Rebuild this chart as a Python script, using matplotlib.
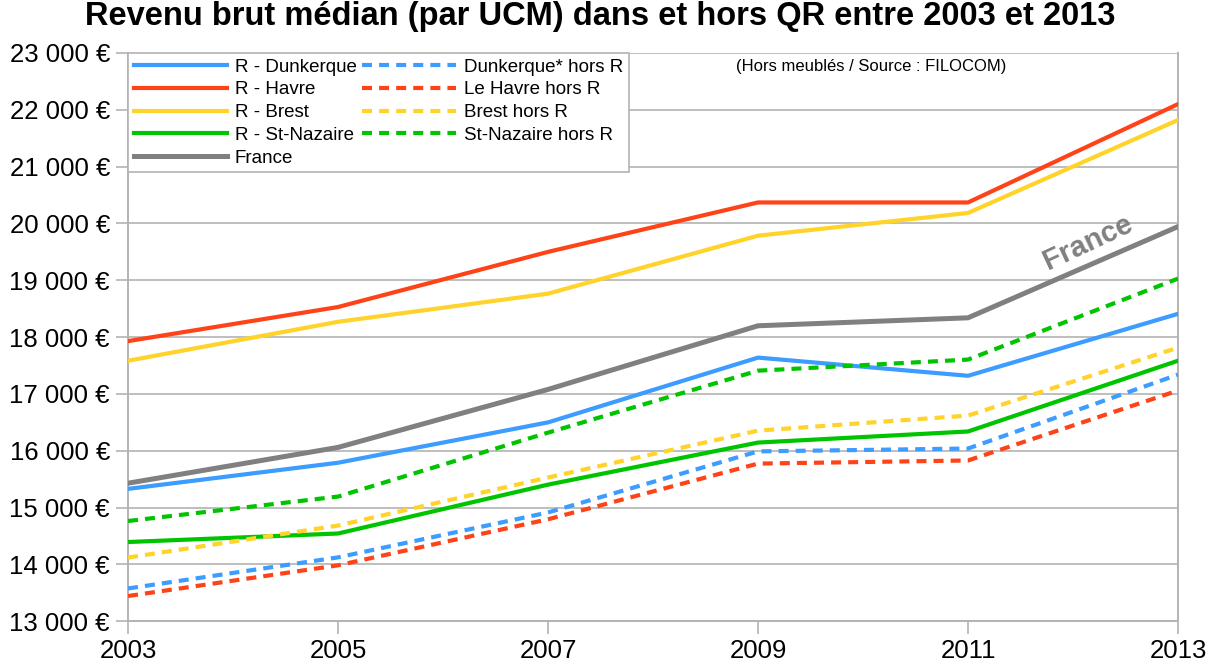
import matplotlib
matplotlib.use('Agg')
import matplotlib.pyplot as plt
from matplotlib.ticker import FuncFormatter

plt.rcParams['font.family'] = ['Liberation Sans', 'DejaVu Sans']

# --- Données ---
annees = [2003, 2005, 2007, 2009, 2011, 2013]

r_dunkerque = [15330, 15790, 16500, 17640, 17320, 18410]
r_havre = [17930, 18530, 19500, 20370, 20370, 22100]
r_brest = [17585, 18270, 18765, 19785, 20185, 21820]
r_st_nazaire = [14395, 14545, 15405, 16145, 16340, 17585]
france = [15430, 16060, 17080, 18200, 18340, 19945]

dunkerque_hors = [13578, 14125, 14915, 15990, 16040, 17340]
havre_hors = [13445, 13985, 14795, 15775, 15830, 17060]
brest_hors = [14122, 14685, 15530, 16355, 16620, 17815]
st_nazaire_hors = [14765, 15195, 16320, 17410, 17605, 19030]

# --- Couleurs ---
BLEU = '#3c9cff'
ROUGE = '#ff4318'
JAUNE = '#ffd32a'
VERT = '#00c400'
GRIS = '#808080'

fig = plt.figure(figsize=(12.23, 6.68), dpi=100)
ax = fig.add_axes([0.1047, 0.0699, 0.8585, 0.8508])

lw = 3.0
dash = (2.4, 1.7)
ax.plot(annees, r_dunkerque, color=BLEU, lw=lw, label='R - Dunkerque', zorder=3)
ax.plot(annees, r_havre, color=ROUGE, lw=lw, label='R - Havre', zorder=3)
ax.plot(annees, r_brest, color=JAUNE, lw=lw, label='R - Brest', zorder=3)
ax.plot(annees, r_st_nazaire, color=VERT, lw=lw, label='R - St-Nazaire', zorder=3)
ax.plot(annees, france, color=GRIS, lw=lw + 0.6, label='France', zorder=3)
ax.plot(annees, dunkerque_hors, color=BLEU, lw=lw, dashes=dash, label='Dunkerque* hors R', zorder=3)
ax.plot(annees, havre_hors, color=ROUGE, lw=lw, dashes=dash, label='Le Havre hors R', zorder=3)
ax.plot(annees, brest_hors, color=JAUNE, lw=lw, dashes=dash, label='Brest hors R', zorder=3)
ax.plot(annees, st_nazaire_hors, color=VERT, lw=lw, dashes=dash, label='St-Nazaire hors R', zorder=3)

ax.set_xlim(2003, 2013)
ax.set_ylim(13000, 23000)
ax.set_xticks(annees)
ax.set_yticks(range(13000, 23001, 1000))
ax.yaxis.set_major_formatter(FuncFormatter(lambda v, p: f'{int(v):,}'.replace(',', ' ') + ' €'))
ax.tick_params(axis='both', labelsize=18.5, length=9, width=1.2, color='#b3b3b3', pad=4)

ax.grid(axis='y', color='#b3b3b3', lw=1.2, zorder=0)
for s in ax.spines.values():
    s.set_color('#b3b3b3')
    s.set_linewidth(1.4)
ax.spines['top'].set_visible(False)

leg = ax.legend(ncol=2, loc='upper left', bbox_to_anchor=(0, 1), borderaxespad=0,
                fontsize=13.5, handlelength=5.0, handletextpad=0.4, columnspacing=0.3,
                labelspacing=0.3, fancybox=False, framealpha=1, edgecolor='#b3b3b3',
                borderpad=0.3)
leg.get_frame().set_linewidth(1.2)
leg.set_zorder(5)

fig.text(736 / 1223, 1 - 67 / 668, '(Hors meublés / Source : FILOCOM)', fontsize=12,
         va='center', ha='left')

ax.text(2012.14, 19660, 'France', color=GRIS, fontsize=21, fontweight='bold',
        rotation=25, ha='center', va='center', zorder=4)

fig.suptitle('Revenu brut médian (par UCM) dans et hors QR entre 2003 et 2013',
             fontsize=23.5, fontweight='bold', x=0.491, y=0.998, va='top')

fig.savefig('out.png', dpi=100)
